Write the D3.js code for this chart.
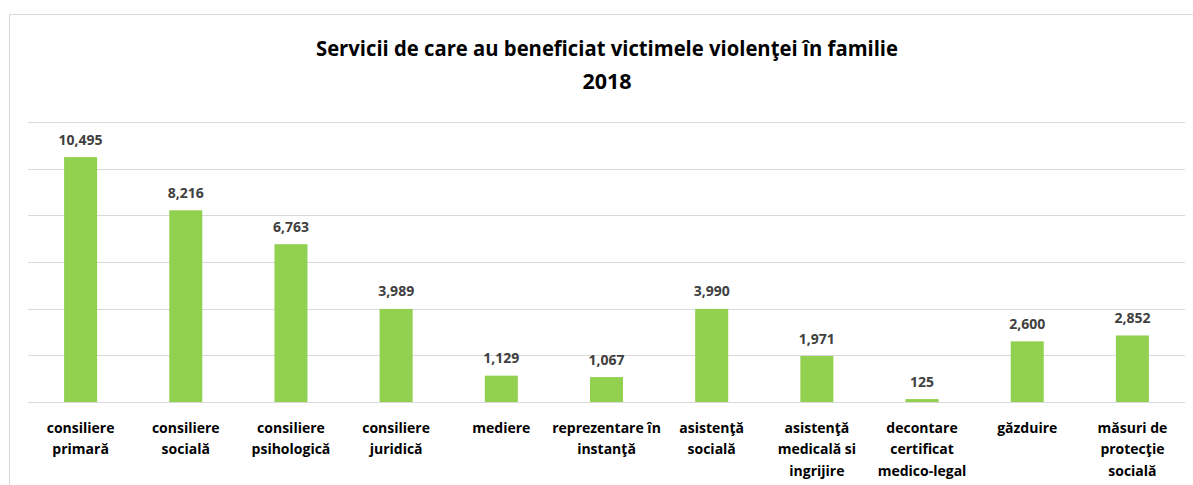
<!DOCTYPE html>
<html><head><meta charset="utf-8">
<script src="https://cdn.jsdelivr.net/npm/d3@7"></script>
<style>
html,body{margin:0;padding:0;background:#fff;}
svg{display:block;font-family:"Open Sans",sans-serif;}
</style></head>
<body><svg id="c" width="1193" height="485"></svg>
<script>
const categories = [
  ["consiliere","primară"],
  ["consiliere","socială"],
  ["consiliere","psihologică"],
  ["consiliere","juridică"],
  ["mediere"],
  ["reprezentare în","instanţă"],
  ["asistenţă","socială"],
  ["asistenţă","medicală si","ingrijire"],
  ["decontare","certificat","medico-legal"],
  ["găzduire"],
  ["măsuri de","protecţie","socială"]
];
const values = [10495, 8216, 6763, 3989, 1129, 1067, 3990, 1971, 125, 2600, 2852];
const yTicks = [0, 2000, 4000, 6000, 8000, 10000, 12000];
const titleLines = ["Servicii de care au beneficiat victimele violenţei în familie", "2018"];

(function(){
const svg = d3.select("#c");
svg.append("rect").attr("x",9.5).attr("y",14.5).attr("width",1200).attr("height",500)
  .attr("fill","#fff").attr("stroke","#d9d9d9").attr("stroke-width",1);

const pl = 28, pr = 1185, pt = 122, pb = 402;
const x = d3.scaleBand().domain(d3.range(values.length)).range([pl,pr]).paddingInner(0.686).paddingOuter(0.343);
const y = d3.scaleLinear().domain([0,12000]).range([pb,pt]);

svg.append("g").selectAll("line").data(yTicks).join("line")
  .attr("x1",pl).attr("x2",pr)
  .attr("y1",d=>Math.round(y(d))+0.5).attr("y2",d=>Math.round(y(d))+0.5)
  .attr("stroke","#d9d9d9").attr("stroke-width",1);

svg.append("g").selectAll("rect").data(values).join("rect")
  .attr("x",(d,i)=>x(i)).attr("width",x.bandwidth())
  .attr("y",d=>y(d)).attr("height",d=>pb-y(d))
  .attr("fill","#92D050");

const fmt = d3.format(",");
svg.append("g").selectAll("text").data(values).join("text")
  .attr("x",(d,i)=>x(i)+x.bandwidth()/2).attr("y",d=>y(d)-12.5)
  .attr("text-anchor","middle").attr("font-size",14).attr("font-weight","bold")
  .attr("fill","#404040").text(d=>fmt(d));

const cg = svg.append("g");
categories.forEach((lines,i)=>{
  const t = cg.append("text").attr("text-anchor","middle").attr("font-size",14)
    .attr("font-weight","bold").attr("fill","#000");
  lines.forEach((ln,j)=>{
    t.append("tspan").attr("x",x(i)+x.bandwidth()/2).attr("y",432.5+j*21.5).text(ln);
  });
});

svg.append("g").selectAll("text").data(titleLines).join("text")
  .attr("x",607).attr("y",(d,i)=>55.5+i*33).attr("text-anchor","middle")
  .attr("font-size",21.5).attr("font-weight","bold").attr("fill","#000")
  .each(function(d,i){ if(i===0) d3.select(this).attr("textLength",582).attr("lengthAdjust","spacingAndGlyphs"); })
  .text(d=>d);
})();
</script></body></html>
